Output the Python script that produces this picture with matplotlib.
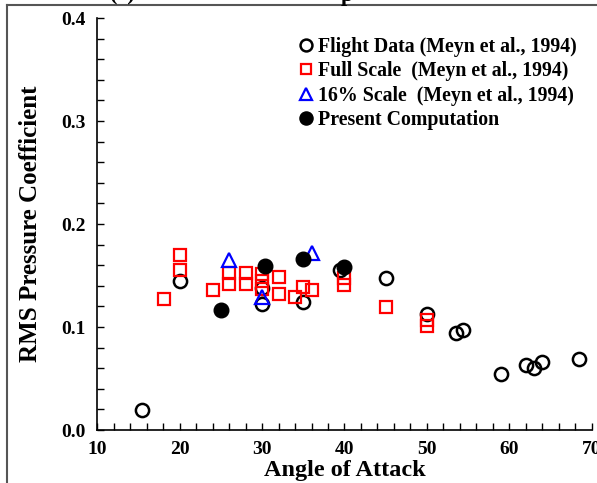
import matplotlib
matplotlib.use("Agg")
import matplotlib.pyplot as plt
from matplotlib.lines import Line2D
from matplotlib.ticker import MultipleLocator

plt.rcParams["font.family"] = ["Liberation Serif", "DejaVu Serif"]
plt.rcParams["font.weight"] = "bold"

# Flight Data (Meyn et al., 1994)
flight_aoa = [15.5, 20.0, 30.0, 30.0, 35.0, 39.5, 45.0, 50.0, 53.5, 54.4, 59.0, 62.0, 63.0, 64.0, 68.4]
flight_cp = [0.019, 0.145, 0.138, 0.122, 0.124, 0.155, 0.148, 0.113, 0.094, 0.097, 0.054, 0.063, 0.060, 0.066, 0.069]

# Full Scale (Meyn et al., 1994)
full_aoa = [18.1, 20.0, 20.0, 24.0, 26.0, 26.0, 28.0, 28.0, 30.0, 30.0, 30.0, 32.0, 32.0, 34.0, 35.0, 36.0,
            40.0, 40.0, 45.0, 50.0, 50.0]
full_cp = [0.127, 0.170, 0.155, 0.136, 0.152, 0.142, 0.152, 0.142, 0.151, 0.145, 0.137, 0.149, 0.132, 0.129,
           0.139, 0.136, 0.148, 0.141, 0.119, 0.107, 0.101]

# 16% Scale (Meyn et al., 1994)
small_aoa = [26.0, 30.0, 36.0]
small_cp = [0.165, 0.129, 0.172]

# Present Computation
comp_aoa = [25.0, 30.4, 35.0, 40.0]
comp_cp = [0.117, 0.159, 0.166, 0.158]

fig = plt.figure(figsize=(5.97, 4.83), dpi=100)
ax = fig.add_axes([0.1625, 0.1097, 0.8291, 0.853])

ax.plot(flight_aoa, flight_cp, "o", mfc="none", mec="black", mew=1.8, ms=9.5,
        label="Flight Data (Meyn et al., 1994)", clip_on=False)
ax.plot(full_aoa, full_cp, "s", mfc="none", mec="red", mew=1.6, ms=8.5,
        label="Full Scale  (Meyn et al., 1994)", clip_on=False)
ax.plot(small_aoa, small_cp, "^", mfc="none", mec="blue", mew=1.6, ms=9.5,
        label="16% Scale  (Meyn et al., 1994)", clip_on=False)
ax.plot(comp_aoa, comp_cp, "o", mfc="black", mec="black", ms=10.5,
        label="Present Computation", clip_on=False)

ax.set_xlim(10, 70)
ax.set_ylim(0, 0.4)
ax.xaxis.set_major_locator(MultipleLocator(10))
ax.xaxis.set_minor_locator(MultipleLocator(2))
ax.yaxis.set_major_locator(MultipleLocator(0.1))
ax.yaxis.set_minor_locator(MultipleLocator(0.02))
ax.yaxis.set_major_formatter(plt.FormatStrFormatter("%.1f"))
ax.tick_params(which="both", direction="in", length=5, width=1.0, labelsize=14)
ax.tick_params(axis="x", pad=8)
ax.tick_params(axis="y", pad=8)
ax.spines["top"].set_visible(False)
ax.spines["right"].set_visible(False)
for s in ("left", "bottom"):
    ax.spines[s].set_linewidth(1.2)

ax.set_xlabel("Angle of Attack", fontsize=17.5, fontweight="bold", labelpad=1)
ax.set_ylabel("RMS Pressure Coefficient", fontsize=18, fontweight="bold", labelpad=14)

ax.legend(loc="upper left", bbox_to_anchor=(0.49, 0.94), bbox_transform=fig.transFigure,
          frameon=False, fontsize=14.3, handlelength=0.55, handletextpad=0.35,
          labelspacing=0.22, borderaxespad=0, markerscale=0.9)

# cut-off caption and page frame
fig.text(0.185, 0.998, "(c)", fontsize=16, va="baseline", ha="left")
fig.text(0.57, 0.998, "p", fontsize=16, va="baseline", ha="left")
fig.add_artist(Line2D([0.012, 0.012], [0.0, 0.99], transform=fig.transFigure, color="#555555", lw=1.5))
fig.add_artist(Line2D([0.012, 1.0], [0.99, 0.99], transform=fig.transFigure, color="#555555", lw=1.5))

fig.savefig("out.png", dpi=100)
